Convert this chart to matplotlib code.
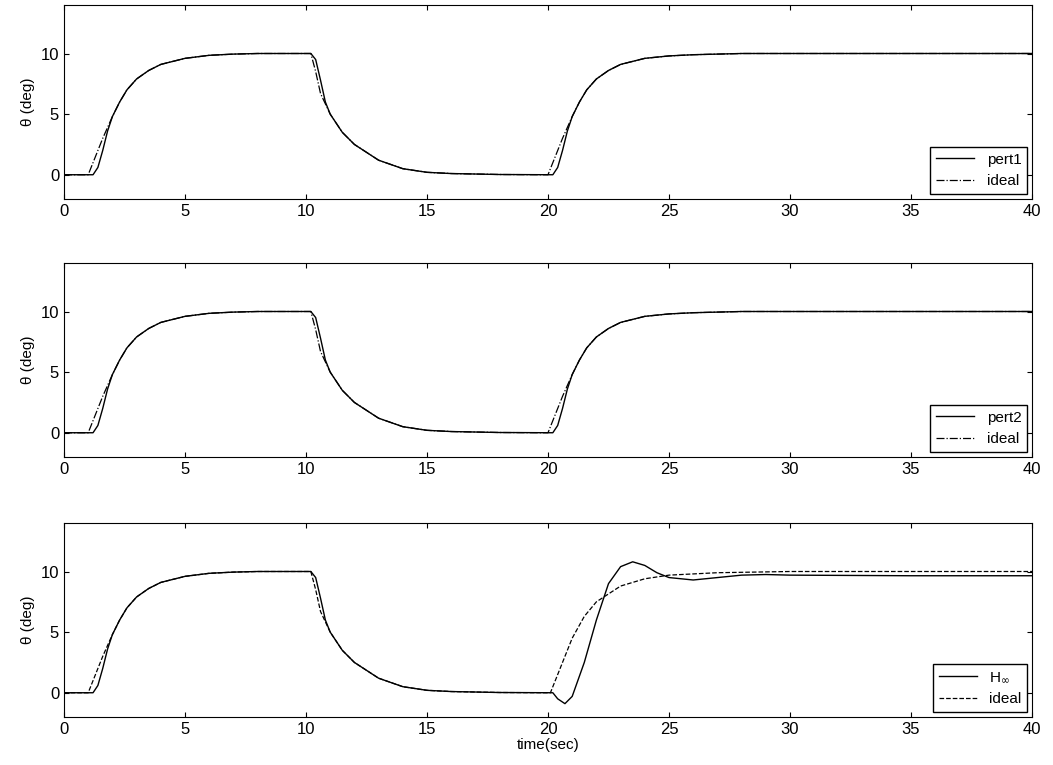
import numpy as np
import matplotlib
matplotlib.use('Agg')
import matplotlib.pyplot as plt

# values (time in sec, theta in deg)
t_pert = [0, 1.2, 1.4, 1.6, 1.8, 2.0, 2.3, 2.6, 3.0, 3.5, 4.0, 5.0, 6.0, 7.0, 8.0, 9.0, 10.2,
          10.4, 10.6, 10.8, 11.0, 11.5, 12.0, 13.0, 14.0, 15.0, 16.0, 18.0, 20.2,
          20.4, 20.6, 20.8, 21.0, 21.3, 21.6, 22.0, 22.5, 23.0, 24.0, 25.0, 26.0, 27.0, 28.0, 30.0, 40.0]
y_pert = [0, 0, 0.6, 2.0, 3.6, 4.8, 6.0, 7.0, 7.9, 8.6, 9.1, 9.6, 9.85, 9.95, 10, 10, 10,
          9.5, 7.8, 6.0, 5.0, 3.5, 2.5, 1.2, 0.5, 0.2, 0.1, 0.02, 0,
          0.6, 2.0, 3.6, 4.8, 6.0, 7.0, 7.9, 8.6, 9.1, 9.6, 9.8, 9.9, 9.95, 10, 10, 10]

t_ideal = [0, 1.0, 1.3, 1.6, 2.0, 2.3, 2.6, 3.0, 3.5, 4.0, 5.0, 6.0, 7.0, 8.0, 9.0, 10.2,
           10.4, 10.6, 11.0, 11.5, 12.0, 13.0, 14.0, 15.0, 16.0, 18.0, 20.0,
           20.3, 20.6, 21.0, 21.3, 21.6, 22.0, 22.5, 23.0, 24.0, 25.0, 26.0, 27.0, 28.0, 30.0, 40.0]
y_ideal = [0, 0, 1.5, 3.0, 4.8, 6.0, 7.0, 7.9, 8.6, 9.1, 9.6, 9.85, 9.95, 10, 10, 10,
           8.5, 6.7, 5.0, 3.5, 2.5, 1.2, 0.5, 0.2, 0.1, 0.02, 0,
           1.5, 3.0, 4.8, 6.0, 7.0, 7.9, 8.6, 9.1, 9.6, 9.8, 9.9, 9.95, 10, 10, 10]

t_hinf = [0, 1.2, 1.4, 1.6, 1.8, 2.0, 2.3, 2.6, 3.0, 3.5, 4.0, 5.0, 6.0, 7.0, 8.0, 9.0, 10.2,
          10.4, 10.6, 10.8, 11.0, 11.5, 12.0, 13.0, 14.0, 15.0, 16.0, 18.0, 20.2,
          20.4, 20.7, 21.0, 21.5, 22.0, 22.5, 23.0, 23.5, 24.0, 24.5, 25.0, 26.0, 27.0, 28.0, 29.0, 30.0, 35.0, 40.0]
y_hinf = [0, 0, 0.6, 2.0, 3.6, 4.8, 6.0, 7.0, 7.9, 8.6, 9.1, 9.6, 9.85, 9.95, 10, 10, 10,
          9.5, 7.8, 6.0, 5.0, 3.5, 2.5, 1.2, 0.5, 0.2, 0.1, 0.02, 0,
          -0.5, -0.9, -0.3, 2.5, 6.0, 9.0, 10.4, 10.8, 10.5, 9.9, 9.5, 9.3, 9.5, 9.7, 9.75, 9.7, 9.65, 9.65]

t_ideal3 = [0, 1.0, 1.3, 1.6, 2.0, 2.3, 2.6, 3.0, 3.5, 4.0, 5.0, 6.0, 7.0, 8.0, 9.0, 10.2,
            10.4, 10.6, 11.0, 11.5, 12.0, 13.0, 14.0, 15.0, 16.0, 18.0, 20.1,
            20.5, 21.0, 21.5, 22.0, 23.0, 24.0, 25.0, 27.0, 30.0, 40.0]
y_ideal3 = [0, 0, 1.5, 3.0, 4.8, 6.0, 7.0, 7.9, 8.6, 9.1, 9.6, 9.85, 9.95, 10, 10, 10,
            8.5, 6.7, 5.0, 3.5, 2.5, 1.2, 0.5, 0.2, 0.1, 0.02, 0,
            2.0, 4.5, 6.3, 7.5, 8.8, 9.4, 9.7, 9.9, 10, 10]

plt.rcParams['font.family'] = ['Liberation Sans', 'DejaVu Sans']
fig = plt.figure(figsize=(10.53, 7.65), dpi=100)

panels = [
    (t_pert, y_pert, 'pert1', t_ideal, y_ideal, '-.'),
    (t_pert, y_pert, 'pert2', t_ideal, y_ideal, '-.'),
    (t_hinf, y_hinf, r'H$_\infty$', t_ideal3, y_ideal3, '--'),
]
tops = [5, 263, 523]
for i, (t1, y1, lab, t2, y2, ls) in enumerate(panels):
    top = tops[i]
    ax = fig.add_axes([64/1053, 1 - (top + 194)/765, 968/1053, 194/765])
    ax.plot(t1, y1, 'k-', lw=1.0, label=lab)
    ax.plot(t2, y2, color='k', ls=ls, lw=0.9, label='ideal')
    ax.set_xlim(0, 40)
    ax.set_ylim(-2, 14)
    ax.set_yticks([0, 5, 10])
    ax.set_xticks(range(0, 41, 5))
    ax.tick_params(direction='in', top=True, right=True, labelsize=12)
    ax.set_ylabel('θ (deg)', fontsize=11)
    ax.legend(loc='lower right', fontsize=11, fancybox=False, edgecolor='k',
              framealpha=1, handlelength=2.5, borderaxespad=0.3)
    if i == 2:
        ax.set_xlabel('time(sec)', fontsize=11, labelpad=1)

fig.savefig('out.png', dpi=100)
